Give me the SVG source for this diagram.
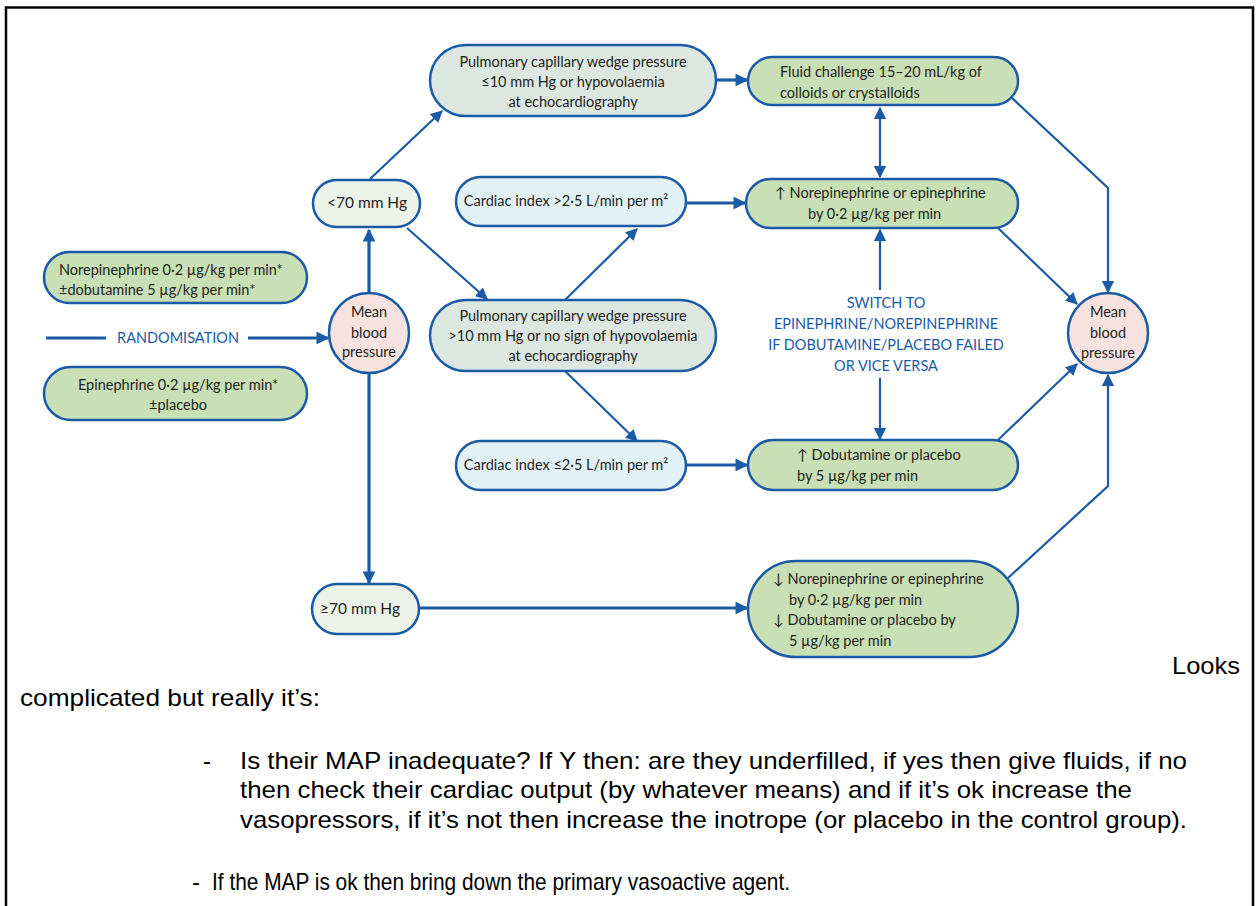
<svg xmlns="http://www.w3.org/2000/svg" width="1256" height="906" viewBox="0 0 1256 906">
<defs>
<marker id="ah" viewBox="0 0 10 10" refX="9" refY="5" markerWidth="5.5" markerHeight="5.5" orient="auto-start-reverse" markerUnits="strokeWidth">
<path d="M0,0 L10,5 L0,10 z" fill="#1b5aa5"/>
</marker>
<marker id="ahs" viewBox="0 0 10 10" refX="9" refY="5" markerWidth="4" markerHeight="4" orient="auto-start-reverse" markerUnits="strokeWidth">
<path d="M0,0 L10,5 L0,10 z" fill="#1b5aa5"/>
</marker>
<style>
.box{stroke:#1b5aa5;stroke-width:2.5}
.g{fill:#c9dfb5}
.gr{fill:#dde7e2}
.lb{fill:#e1f1f6}
.lt{fill:#eef3ea}
.pk{fill:#f7e2df}
.t{font-family:Lato,"Open Sans",sans-serif;font-size:14.5px;fill:#231f20}
.c{text-anchor:middle}
.bl{font-family:Lato,"Open Sans",sans-serif;font-size:14.5px;fill:#1b5aa5}
.ln{stroke:#1b5aa5;stroke-width:2.2;fill:none;marker-end:url(#ah)}
.lk{stroke:#1b5aa5;stroke-width:3.2;fill:none;marker-end:url(#ahs)}
.p{font-family:"Liberation Sans",Arial,sans-serif;font-size:24px;fill:#000}
</style>
</defs>
<rect x="6" y="7.5" width="1247" height="920" fill="none" stroke="#000" stroke-width="2.5"/>
<g id="connectors">
<line class="ln" x1="370" y1="179" x2="442" y2="111"/>
<line class="ln" x1="407" y1="228" x2="487" y2="299"/>
<line class="lk" x1="369" y1="293" x2="369" y2="230"/>
<line class="lk" x1="369" y1="373" x2="369" y2="583"/>
<line x1="46" y1="338" x2="106" y2="338" stroke="#1b5aa5" stroke-width="3.2"/>
<line class="lk" x1="248" y1="338" x2="328" y2="338"/>
<line class="lk" x1="716" y1="80" x2="747" y2="80"/>
<line class="ln" x1="880" y1="108" x2="880" y2="177" marker-start="url(#ah)"/>
<line class="ln" x1="565" y1="300" x2="637" y2="229"/>
<line class="ln" x1="565" y1="371" x2="637" y2="441"/>
<line class="lk" x1="686" y1="203" x2="745" y2="203"/>
<line class="lk" x1="686" y1="465" x2="747" y2="465"/>
<line class="ln" x1="880" y1="290" x2="880" y2="230"/>
<line class="ln" x1="880" y1="378" x2="880" y2="439"/>
<line class="lk" x1="419" y1="608" x2="747" y2="608"/>
<polyline class="ln" points="1012,98 1108,188 1108,292"/>
<line class="ln" x1="998" y1="228" x2="1077" y2="304"/>
<line class="ln" x1="998" y1="440" x2="1077" y2="364"/>
<polyline class="ln" points="1008,578 1108,486 1108,375"/>
</g>
<g id="n_pcwp_low">
<rect class="box gr" x="430" y="45" width="286" height="71" rx="35.5"/>
<text class="t c" x="573" y="67">Pulmonary capillary wedge pressure</text>
<text class="t c" x="573" y="87">≤10 mm Hg or hypovolaemia</text>
<text class="t c" x="573" y="107">at echocardiography</text>
</g>
<g id="n_fluid">
<rect class="box g" x="748" y="57" width="270" height="48" rx="24"/>
<text class="t" x="780" y="77">Fluid challenge 15–20 mL/kg of</text>
<text class="t" x="780" y="98">colloids or crystalloids</text>
</g>
<g id="n_lt70">
<rect class="box lt" x="313" y="180" width="107" height="47" rx="23.5"/>
<text class="t c" x="367" y="208" style="font-size:15.5px">&lt;70 mm Hg</text>
</g>
<g id="n_ci_high">
<rect class="box lb" x="456" y="177" width="230" height="49" rx="24.5"/>
<text class="t c" x="566" y="206">Cardiac index &gt;2·5 L/min per m²</text>
</g>
<g id="n_norepi_up">
<rect class="box g" x="746" y="179" width="272" height="49" rx="24.5"/>
<text class="t" x="775" y="198">↑ Norepinephrine or epinephrine</text>
<text class="t" x="808" y="219">by 0·2 µg/kg per min</text>
</g>
<g id="n_arm_ne">
<rect class="box g" x="44" y="252" width="263" height="51" rx="25.5"/>
<text class="t" x="59" y="275">Norepinephrine 0·2 µg/kg per min*</text>
<text class="t" x="59" y="295">±dobutamine 5 µg/kg per min*</text>
</g>
<g id="n_random">
<text class="bl c" x="178" y="343">RANDOMISATION</text>
</g>
<g id="n_mbp_left">
<circle class="box pk" cx="369" cy="333" r="40"/>
<text class="t c" x="369" y="317">Mean</text>
<text class="t c" x="369" y="338">blood</text>
<text class="t c" x="369" y="357">pressure</text>
</g>
<g id="n_pcwp_high">
<rect class="box gr" x="430" y="300" width="286" height="71" rx="35.5"/>
<text class="t c" x="573" y="321">Pulmonary capillary wedge pressure</text>
<text class="t c" x="573" y="341">&gt;10 mm Hg or no sign of hypovolaemia</text>
<text class="t c" x="573" y="361">at echocardiography</text>
</g>
<g id="n_arm_epi">
<rect class="box g" x="44" y="367" width="263" height="53" rx="26.5"/>
<text class="t c" x="178" y="390">Epinephrine 0·2 µg/kg per min*</text>
<text class="t c" x="178" y="410">±placebo</text>
</g>
<g id="n_switch">
<text class="bl c" x="886" y="308">SWITCH TO</text>
<text class="bl c" x="886" y="329">EPINEPHRINE/NOREPINEPHRINE</text>
<text class="bl c" x="886" y="350">IF DOBUTAMINE/PLACEBO FAILED</text>
<text class="bl c" x="886" y="371">OR VICE VERSA</text>
</g>
<g id="n_mbp_right">
<circle class="box pk" cx="1108" cy="333" r="40"/>
<text class="t c" x="1108" y="317">Mean</text>
<text class="t c" x="1108" y="338">blood</text>
<text class="t c" x="1108" y="358">pressure</text>
</g>
<g id="n_ci_low">
<rect class="box lb" x="456" y="441" width="230" height="49" rx="24.5"/>
<text class="t c" x="566" y="470">Cardiac index ≤2·5 L/min per m²</text>
</g>
<g id="n_dobut_up">
<rect class="box g" x="748" y="440" width="270" height="50" rx="25"/>
<text class="t" x="797" y="460">↑ Dobutamine or placebo</text>
<text class="t" x="797" y="481">by 5 µg/kg per min</text>
</g>
<g id="n_ge70">
<rect class="box lt" x="312" y="584" width="107" height="50" rx="25"/>
<text class="t c" x="360" y="614" style="font-size:15.5px">≥70 mm Hg</text>
</g>
<g id="n_down">
<rect class="box g" x="748" y="561" width="270" height="96" rx="48"/>
<text class="t" x="773" y="584">↓ Norepinephrine or epinephrine</text>
<text class="t" x="789" y="605">by 0·2 µg/kg per min</text>
<text class="t" x="773" y="625">↓ Dobutamine or placebo by</text>
<text class="t" x="789" y="646">5 µg/kg per min</text>
</g>
<g id="notes">
<text class="p" x="1172" y="674" textLength="68" lengthAdjust="spacingAndGlyphs">Looks</text>
<text class="p" x="20" y="706" textLength="300" lengthAdjust="spacingAndGlyphs">complicated but really it’s:</text>
<text class="p" x="203" y="769">-</text>
<text class="p" x="240" y="769" textLength="947" lengthAdjust="spacingAndGlyphs">Is their MAP inadequate? If Y then: are they underfilled, if yes then give fluids, if no</text>
<text class="p" x="240" y="798" textLength="892" lengthAdjust="spacingAndGlyphs">then check their cardiac output (by whatever means) and if it’s ok increase the</text>
<text class="p" x="240" y="828" textLength="947" lengthAdjust="spacingAndGlyphs">vasopressors, if it’s not then increase the inotrope (or placebo in the control group).</text>
<text class="p" x="192" y="890">-</text>
<text class="p" x="212" y="890" textLength="578" lengthAdjust="spacingAndGlyphs">If the MAP is ok then bring down the primary vasoactive agent.</text>
</g>
</svg>
